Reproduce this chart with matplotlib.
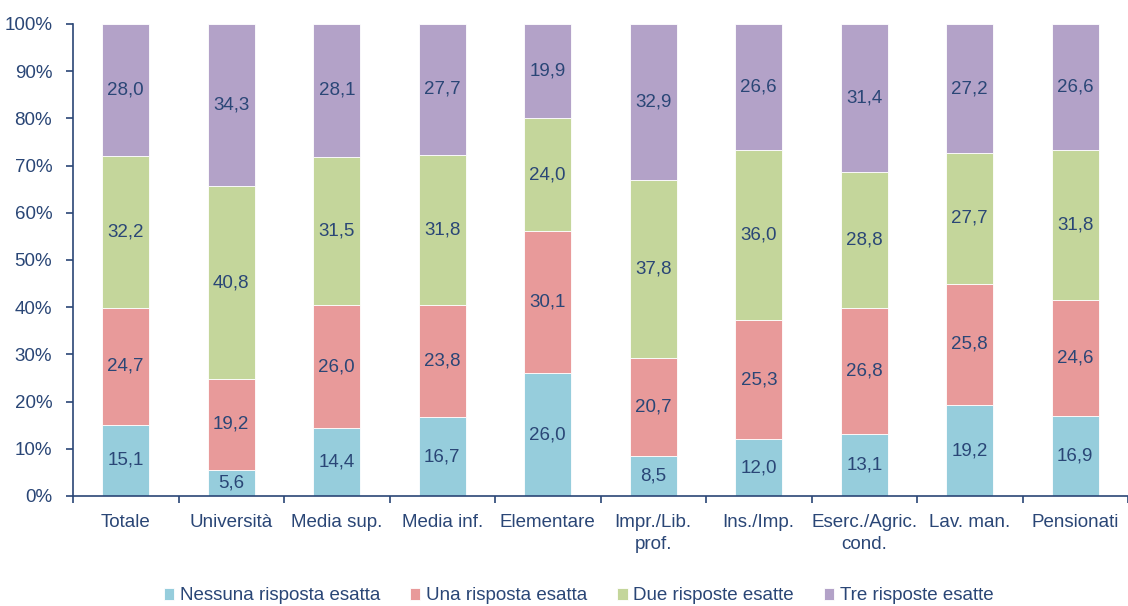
import matplotlib
matplotlib.use("Agg")
import matplotlib.pyplot as plt
import numpy as np

plt.rcParams['font.family'] = ['Liberation Sans', 'DejaVu Sans']

categories = ["Totale", "Università", "Media sup.", "Media inf.", "Elementare",
              "Impr./Lib.\nprof.", "Ins./Imp.", "Eserc./Agric.\ncond.", "Lav. man.", "Pensionati"]
nessuna = [15.1, 5.6, 14.4, 16.7, 26.0, 8.5, 12.0, 13.1, 19.2, 16.9]
una = [24.7, 19.2, 26.0, 23.8, 30.1, 20.7, 25.3, 26.8, 25.8, 24.6]
due = [32.2, 40.8, 31.5, 31.8, 24.0, 37.8, 36.0, 28.8, 27.7, 31.8]
tre = [28.0, 34.3, 28.1, 27.7, 19.9, 32.9, 26.6, 31.4, 27.2, 26.6]
series_names = ["Nessuna risposta esatta", "Una risposta esatta",
                "Due risposte esatte", "Tre risposte esatte"]
colors = ["#96CDDC", "#E89A9A", "#C4D69B", "#B3A2C8"]
text_color = "#2A4676"
fs = 13.5

fig = plt.figure(figsize=(11.28, 6.06), dpi=100)
ax = fig.add_axes([73 / 1128, 1 - 496 / 606, (1128 - 73) / 1128, 472 / 606])

x = np.arange(len(categories))
bottom = np.zeros(len(categories))
for vals, name, col in zip([nessuna, una, due, tre], series_names, colors):
    vals = np.array(vals)
    ax.bar(x, vals, 0.45, bottom=bottom, color=col, label=name,
           edgecolor="white", linewidth=0.6)
    for xi, b, v in zip(x, bottom, vals):
        ax.text(xi, b + v / 2, f"{v:.1f}".replace(".", ","), ha="center", va="center",
                fontsize=fs, color=text_color)
    bottom += vals

ax.set_xlim(-0.5, len(categories) - 0.5)
ax.set_ylim(0, 100)
ax.set_yticks(np.arange(0, 101, 10))
ax.set_yticklabels([f"{v}%" for v in range(0, 101, 10)])
ax.set_xticks(x)
ax.set_xticklabels(categories, linespacing=1.35)
ax.set_xticks(np.arange(-0.5, len(categories), 1), minor=True)

for s in ["top", "right"]:
    ax.spines[s].set_visible(False)
for s in ["left", "bottom"]:
    ax.spines[s].set_color(text_color)
    ax.spines[s].set_linewidth(1.2)

ax.tick_params(axis="y", colors=text_color, labelsize=fs, length=5, width=1.2, direction="out", pad=10)
ax.tick_params(axis="x", which="major", length=0, labelsize=fs, colors=text_color, pad=13)
ax.tick_params(axis="x", which="minor", length=5, width=1.2, color=text_color, direction="out")

leg = fig.legend(loc="center", bbox_to_anchor=(0.513, 1 - 596 / 606), ncol=4, frameon=False,
                 fontsize=fs, handlelength=0.55, handleheight=0.55, columnspacing=1.6,
                 handletextpad=0.3)
for t in leg.get_texts():
    t.set_color(text_color)

fig.savefig("out.png", dpi=100)
